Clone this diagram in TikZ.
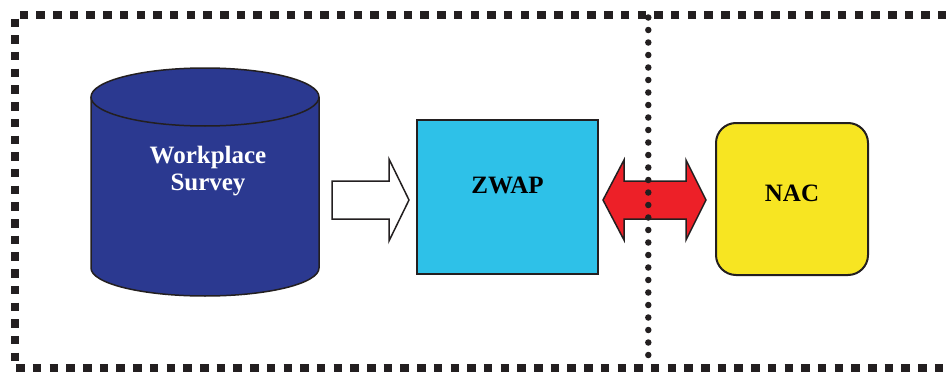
\documentclass[tikz,border=0pt]{standalone}
\usepackage{fontspec}
\setmainfont{Liberation Serif}
\usepackage{tikz}
\usetikzlibrary{positioning}
\definecolor{surveyblue}{RGB}{43,57,144}
\definecolor{zwapcyan}{RGB}{46,193,232}
\definecolor{nacyellow}{RGB}{247,229,34}
\definecolor{arrowred}{RGB}{237,32,40}
\definecolor{ink}{RGB}{35,31,32}
\tikzset{
  border/.style={ink, line width=8pt, dash pattern=on 8.5pt off 8.2pt},
  divider/.style={ink, line width=6.5pt, line cap=round, dash pattern=on 0pt off 12.5pt},
  lbl/.style={font=\fontsize{25}{27.5}\selectfont\bfseries, inner sep=0pt},
  box/.style={draw=ink, line width=2pt, inner sep=0pt, lbl},
  blockarrow/.style={draw=ink, line width=1.5pt, line join=miter}
}
\begin{document}
\begin{tikzpicture}[x=1pt,y=-1pt]
\useasboundingbox (0,0) rectangle (946,372);
% outer frame
\draw [border] (980,15) -- (15,15) -- (15,368) -- (980,368);
% database
\fill [surveyblue] (91,97) -- (91,268) arc (180:0:114 and 28) -- (319,97) arc (0:-180:114 and 29);
\draw [ink, line width=1.5pt] (205,97) ellipse (114 and 29);
\draw [ink, line width=1.5pt] (91,97) -- (91,268) arc (180:0:114 and 28) -- (319,97);
\node [lbl, text=white, align=center] (survey) at (208,171) {Workplace\\Survey};
% boxes
\node [box, fill=zwapcyan, minimum width=181pt, minimum height=154pt, text depth=24pt] (zwap) at (507.5,197) {ZWAP};
\node [box, fill=nacyellow, rounded corners=20pt, minimum width=152pt, minimum height=152pt, text depth=11.4pt] (nac) at (792,199) {NAC};
% arrows
\draw [blockarrow, fill=white] (332,181) -- (389,181) -- (389,159) -- (409,200) -- (389,241) -- (389,219) -- (332,219) -- cycle;
\draw [blockarrow, fill=arrowred] (603,200) -- (624,160) -- (624,181) -- (686,181) -- (686,160) -- (706,200) -- (686,240) -- (686,219) -- (624,219) -- (624,240) -- cycle;
% dotted divider
\draw [divider] (648.3,17.5) -- (648.3,362);
\end{tikzpicture}
\end{document}
